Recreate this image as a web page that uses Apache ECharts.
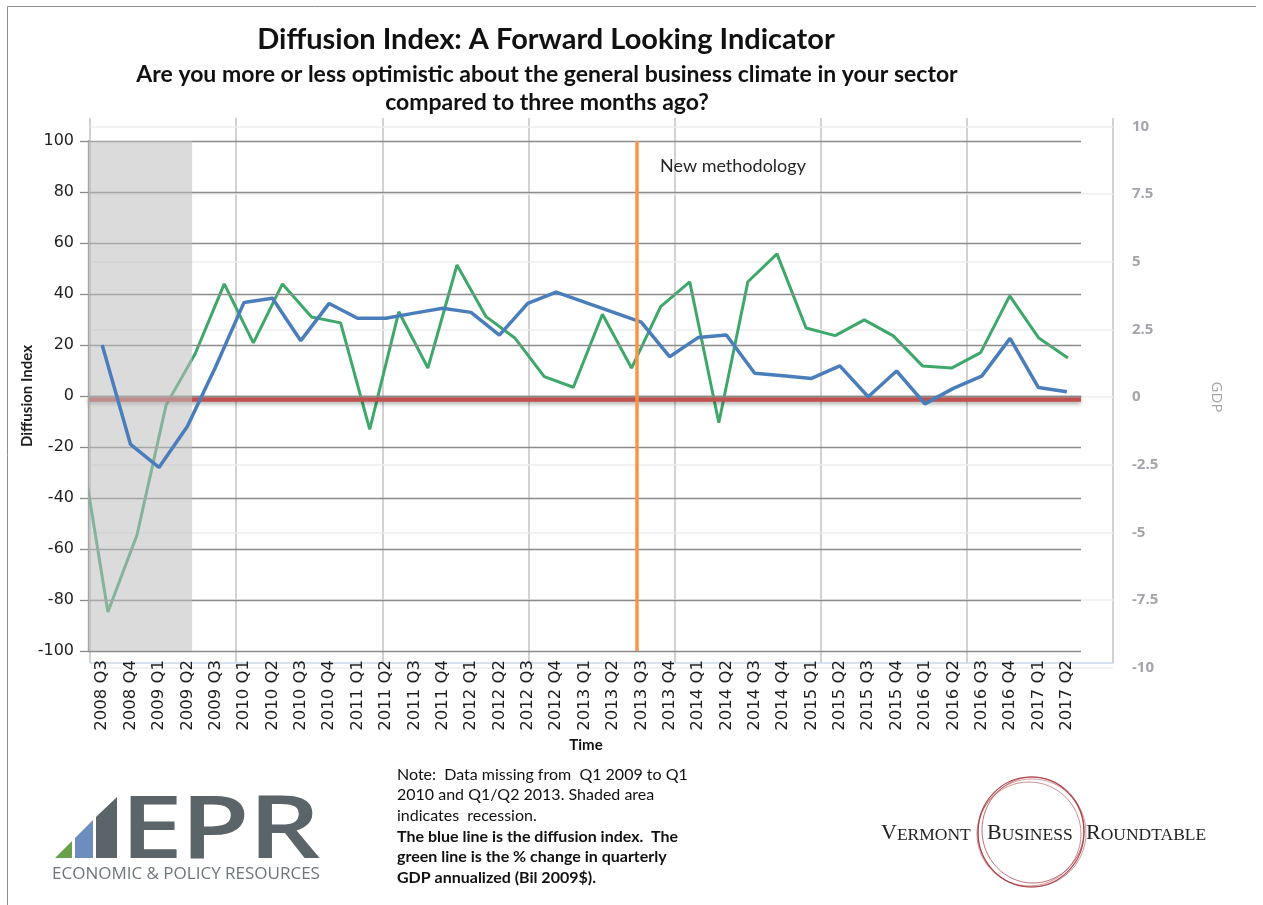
<!DOCTYPE html>
<html>
<head>
<meta charset="utf-8">
<script src="https://cdn.jsdelivr.net/npm/echarts@6/dist/echarts.min.js"></script>
<style>html,body{margin:0;padding:0;background:#fff;}#c{width:1263px;height:905px;}</style>
</head>
<body>
<div id="c"></div>
<script>
// ---- data ----
const quarters = ['2008 Q3','2008 Q4','2009 Q1','2009 Q2','2009 Q3','2010 Q1','2010 Q2','2010 Q3','2010 Q4',
  '2011 Q1','2011 Q2','2011 Q3','2011 Q4','2012 Q1','2012 Q2','2012 Q3','2012 Q4','2013 Q1','2013 Q2',
  '2013 Q3','2013 Q4','2014 Q1','2014 Q2','2014 Q3','2014 Q4','2015 Q1','2015 Q2','2015 Q3','2015 Q4',
  '2016 Q1','2016 Q2','2016 Q3','2016 Q4','2017 Q1','2017 Q2'];
const diffusionIndex = [20, -19, -28, -12, 11.5, 36.7, 38.3, 21.7, 36.3, 30.5, 30.5, 32.5, 34.4, 32.8, 23.9,
  36.3, 40.7, null, null, 29, 15.4, 22.9, 23.9, 8.9, 7.9, 6.9, 11.8, -0.3, 9.8, -3.1, 3, 7.8, 22.6, 3.3, 1.7];
// GDP % change, quarterly annualized (own quarterly axis, 2008 Q3 .. 2017 Q1)
const gdpGrowth = [-1.3, -7.95, -5.1, -0.3, 1.6, 4.18, 2.0, 4.18, 2.96, 2.74, -1.2, 3.15, 1.07, 4.88, 2.97,
  2.17, 0.75, 0.36, 3.06, 1.07, 3.34, 4.26, -0.95, 4.26, 5.29, 2.55, 2.27, 2.85, 2.26, 1.15, 1.07, 1.64,
  3.74, 2.18, 1.44];
// axis ranges
const leftMin = -100, leftMax = 100, leftStep = 20;
const rightMin = -10, rightMax = 10, rightStep = 2.5;
const gdpIndexMin = 0.402, gdpIndexMax = 35.55;   // visible span of the GDP quarter index
// markers (in category units along the diffusion axis)
const recessionSpan = [0, 3.67];
const newMethodologyAt = 19.35;
const baselineValue = -1.2;

const gdpPairs = gdpGrowth.map((v, i) => [i, v]);

const chart = echarts.init(document.getElementById('c'), null, {renderer: 'canvas'});
const txt = '#1e1e1e';
const rightGrey = '#a4a4ad';
const eprGrey = '#5b6468';
const vbrRich = {
  b: {font: '22px "Liberation Serif"', fill: '#222', verticalAlign: 'bottom'},
  s: {font: '17.5px "Liberation Serif"', fill: '#222', verticalAlign: 'bottom'}
};

const option = {
  animation: false,
  backgroundColor: '#ffffff',
  grid: [
    {left: 88, top: 141, width: 993, height: 510},
    {left: 90.5, top: 126.5, width: 1022.5, height: 541},
    {left: 90, top: 118, width: 1023, height: 545}
  ],
  xAxis: [
    {type: 'category', gridIndex: 0, data: quarters, boundaryGap: true, z: 3,
     axisLine: {show: true, lineStyle: {color: '#8a8a8a', width: 1.3}},
     axisTick: {show: false},
     axisLabel: {rotate: 90, interval: 0, margin: 9, fontFamily: 'DejaVu Sans', fontSize: 16.5, color: txt},
     splitLine: {show: false}},
    {type: 'value', gridIndex: 1, min: gdpIndexMin, max: gdpIndexMax, show: false},
    {type: 'value', gridIndex: 2, min: 0, max: 7, interval: 1, z: 0,
     axisLine: {show: true, lineStyle: {color: '#cbd8ea', width: 1.5}},
     axisTick: {show: false}, axisLabel: {show: false},
     splitLine: {show: true, lineStyle: {color: '#d2d2d2', width: 2}}},
    {type: 'value', gridIndex: 0, min: 0, max: quarters.length, show: false}
  ],
  yAxis: [
    {type: 'value', gridIndex: 0, min: leftMin, max: leftMax, interval: leftStep, z: 3,
     axisLine: {show: true, lineStyle: {color: '#8a8a8a', width: 1.3}},
     axisTick: {show: true, inside: false, length: 8, lineStyle: {color: '#8a8a8a', width: 1.3}},
     axisLabel: {margin: 14, fontFamily: 'DejaVu Sans', fontSize: 16, color: txt},
     splitLine: {show: true, lineStyle: {color: '#8c8c8c', width: 1.3}}},
    {type: 'value', gridIndex: 1, min: rightMin, max: rightMax, interval: rightStep, position: 'right', z: 1,
     axisLine: {show: false}, axisTick: {show: false},
     axisLabel: {margin: 19, fontFamily: 'Open Sans', fontWeight: 'bold', fontSize: 15, color: rightGrey},
     splitLine: {show: true, lineStyle: {color: '#eeeeee', width: 1.5}},
     name: 'GDP', nameLocation: 'middle', nameGap: 96, nameRotate: -90,
     nameTextStyle: {fontFamily: 'Open Sans', fontSize: 15, color: rightGrey}},
    {type: 'value', gridIndex: 2, show: false, splitLine: {show: false}}
  ],
  series: [
    {name: 'GDP', type: 'line', xAxisIndex: 1, yAxisIndex: 1, data: gdpPairs, symbol: 'none', z: 2,
     clip: true, lineStyle: {color: '#3ea86a', width: 3}},
    {name: 'baseline', type: 'line', xAxisIndex: 0, yAxisIndex: 0, data: [], z: 3,
     markLine: {z: 3, silent: true, symbol: 'none', label: {show: false},
       lineStyle: {type: 'solid', color: '#c0504d', width: 4.5, shadowColor: 'rgba(0,0,0,0.35)', shadowBlur: 4, shadowOffsetY: 2},
       data: [{yAxis: baselineValue}]}},
    {name: 'recession', type: 'line', xAxisIndex: 3, yAxisIndex: 0, data: [], z: 4,
     markArea: {z: 4, silent: true, itemStyle: {color: 'rgba(190,190,190,0.55)'},
       data: [[{xAxis: recessionSpan[0], yAxis: leftMin}, {xAxis: recessionSpan[1], yAxis: leftMax}]]}},
    {name: 'Diffusion Index', type: 'line', xAxisIndex: 0, yAxisIndex: 0, data: diffusionIndex, connectNulls: true,
     symbol: 'none', z: 5, lineStyle: {color: '#4a7ebb', width: 3.5}},
    {name: 'methodology', type: 'line', xAxisIndex: 3, yAxisIndex: 0, data: [], z: 6,
     markLine: {z: 6, silent: true, symbol: 'none', label: {show: false},
       lineStyle: {type: 'solid', color: '#f79646', width: 3.5},
       data: [{xAxis: newMethodologyAt}]}}
  ],
  graphic: [
    {type: 'polyline', silent: true, shape: {points: [[7.5, 905], [7.5, 6.5], [1256, 6.5]]},
     style: {stroke: '#8f8f8f', lineWidth: 1, fill: null}},
    {type: 'text', style: {x: 546, y: 40, text: 'Diffusion Index: A Forward Looking Indicator', textAlign: 'center',
      textVerticalAlign: 'middle', font: 'bold 29px Lato', fill: '#111'}},
    {type: 'text', style: {x: 547, y: 89, text: 'Are you more or less optimistic about the general business climate in your sector\ncompared to three months ago?',
      textAlign: 'center', textVerticalAlign: 'middle', font: 'bold 23px Lato', lineHeight: 28, fill: '#111'}},
    {type: 'text', x: 27, y: 396, rotation: Math.PI / 2, style: {x: 0, y: 0, text: 'Diffusion Index', textAlign: 'center',
      textVerticalAlign: 'middle', font: 'bold 15px Lato', fill: txt}},
    {type: 'text', z: 10, style: {x: 660, y: 166, text: 'New methodology', textAlign: 'left', textVerticalAlign: 'middle',
      font: '18px Lato', fill: '#262626'}},
    {type: 'text', style: {x: 586, y: 745, text: 'Time', textAlign: 'center', textVerticalAlign: 'middle',
      font: 'bold 15px Lato', fill: '#111'}},
    // note
    {type: 'text', style: {x: 397, y: 795, text: 'Note:  Data missing from  Q1 2009 to Q1\n2010 and Q1/Q2 2013. Shaded area\nindicates  recession.',
      textAlign: 'left', textVerticalAlign: 'middle', font: '16px Lato', lineHeight: 20.6, fill: '#111'}},
    {type: 'text', style: {x: 397, y: 857, text: 'The blue line is the diffusion index.  The\ngreen line is the % change in quarterly\nGDP annualized (Bil 2009$).',
      textAlign: 'left', textVerticalAlign: 'middle', font: 'bold 16px Lato', lineHeight: 20.6, fill: '#111'}},
    // EPR logo
    {type: 'polygon', shape: {points: [[55, 858], [72, 858], [72, 841]]}, style: {fill: '#6a9f4c'}},
    {type: 'polygon', shape: {points: [[75, 858], [93, 858], [93, 820], [75, 838]]}, style: {fill: '#6d8dbf'}},
    {type: 'polygon', shape: {points: [[96, 858], [117, 858], [117, 797], [96, 817]]}, style: {fill: eprGrey}},
    {type: 'text', x: 120, y: 833, scaleX: 1.32, style: {x: 0, y: 0, text: 'E', textAlign: 'left', textVerticalAlign: 'middle', font: '600 86px "Open Sans"', fill: eprGrey}},
    {type: 'text', x: 180, y: 833, scaleX: 1.32, style: {x: 0, y: 0, text: 'P', textAlign: 'left', textVerticalAlign: 'middle', font: '600 86px "Open Sans"', fill: eprGrey}},
    {type: 'text', x: 248, y: 833, scaleX: 1.32, style: {x: 0, y: 0, text: 'R', textAlign: 'left', textVerticalAlign: 'middle', font: '600 86px "Open Sans"', fill: eprGrey}},
    {type: 'text', style: {x: 52, y: 874, text: 'ECONOMIC & POLICY RESOURCES', textAlign: 'left', textVerticalAlign: 'middle',
      font: '17px "Open Sans"', fill: '#6e767a'}},
    // Vermont Business Roundtable logo
    {type: 'ellipse', shape: {cx: 1031, cy: 832, rx: 53, ry: 55}, style: {fill: null, stroke: '#9e2a2f', lineWidth: 1.2, opacity: 0.85}},
    {type: 'ellipse', shape: {cx: 1033, cy: 830, rx: 51, ry: 53}, style: {fill: null, stroke: '#a8353a', lineWidth: 1, opacity: 0.7}},
    {type: 'ellipse', shape: {cx: 1029, cy: 834, rx: 52, ry: 52}, style: {fill: null, stroke: '#b0454a', lineWidth: 1, opacity: 0.6}},
    {type: 'ellipse', shape: {cx: 1032, cy: 833, rx: 54, ry: 54}, style: {fill: null, stroke: '#a03035', lineWidth: 0.8, opacity: 0.6}},
    {type: 'text', style: {x: 881, y: 833, text: '{b|V}{s|ERMONT}', textAlign: 'left', textVerticalAlign: 'middle', rich: vbrRich}},
    {type: 'text', style: {x: 987, y: 833, text: '{b|B}{s|USINESS}', textAlign: 'left', textVerticalAlign: 'middle', rich: vbrRich}},
    {type: 'text', style: {x: 1086, y: 833, text: '{b|R}{s|OUNDTABLE}', textAlign: 'left', textVerticalAlign: 'middle', rich: vbrRich}}
  ]
};
chart.setOption(option);
</script>
</body>
</html>
